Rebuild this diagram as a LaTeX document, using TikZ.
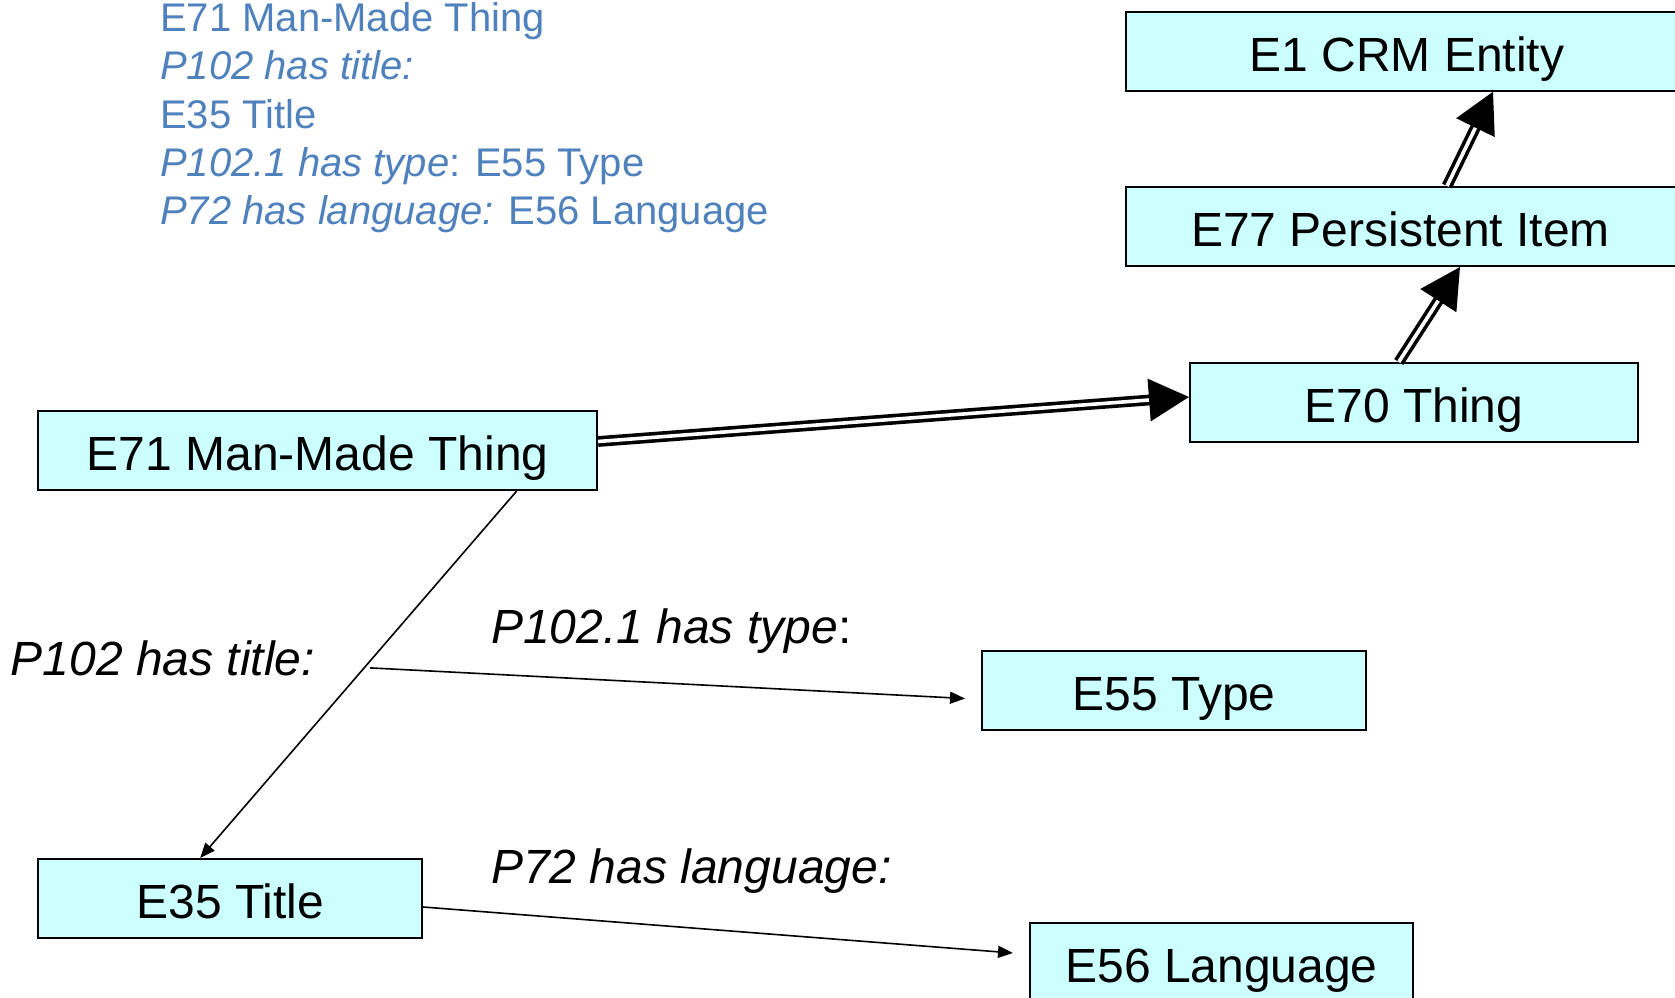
\documentclass[tikz,border=0pt]{standalone}
\usepackage{fontspec}
\setmainfont{Liberation Sans}
\usetikzlibrary{arrows.meta}
\definecolor{boxfill}{HTML}{CCFFFF}
\definecolor{noteblue}{HTML}{4F81BD}
\begin{document}
\begin{tikzpicture}[x=1pt,y=-1pt,
  cls/.style={draw=black, line width=2pt, fill=boxfill, anchor=north west, inner sep=0pt,
    minimum height=79pt, text height=40pt, text depth=0pt, font=\fontsize{48}{56}\selectfont},
  lbl/.style={anchor=base west, inner sep=0pt, font=\fontsize{48}{56}\selectfont\itshape},
  note/.style={anchor=base west, inner sep=0pt, text=noteblue, font=\fontsize{40}{48}\selectfont},
  isa/.style={double, line width=3.6pt, double distance=3.6pt, -{Triangle[length=40pt,width=42pt]}},
  rel/.style={line width=1.6pt, -{Triangle[length=15pt,width=12pt]}}]
\useasboundingbox (0,0) rectangle (1675,998);
\clip (0,0) rectangle (1675,998);

% notes
\node[note] (n1) at (160,32) {E71 Man-Made Thing};
\node[note] (n2) at (160,80) {\itshape P102 has title:};
\node[note] (n3) at (160,128) {E35 Title};
\node[note] (n4) at (160,176) {{\itshape P102.1 has type}: E55 Type};
\node[note] (n5) at (160,224) {{\itshape P72 has language:} E56 Language};

% classes
\node[cls, minimum width=562pt] (e1) at (1125,10.7) {E1 CRM Entity};
\node[cls, minimum width=562pt] (e77) at (1125,186) {\hspace*{-13pt}E77 Persistent Item};
\node[cls, minimum width=447.5pt] (e70) at (1189,362) {E70 Thing};
\node[cls, minimum width=558.6pt] (e71) at (37.4,410) {E71 Man-Made Thing};
\node[cls, minimum width=383.6pt] (e35) at (37.4,858) {E35 Title};
\node[cls, minimum width=384pt] (e55) at (981,649.5) {E55 Type};
\node[cls, minimum width=383pt] (e56) at (1029,922) {E56 Language};

% labels
\node[lbl] (l1) at (10.7,675) {P102 has title:};
\node[lbl] (l2) at (491,643) {P102.1 has type\upshape:};
\node[lbl] (l3) at (491,883) {P72 has language:};

% isA links
\draw[isa] ([yshift=9pt]e71.east) -- ([yshift=5.5pt]e70.west);
\draw[isa] ([xshift=-15pt]e70.north) -- ([xshift=53pt]e77.south);
\draw[isa] ([xshift=40pt]e77.north) -- ([xshift=86pt]e1.south);

% property links
\draw[rel] ([xshift=199pt]e71.south) -- coordinate[pos=0.482] (mid) ([xshift=-30pt]e35.north);
\draw[rel] ([xshift=6pt]mid) -- ([xshift=-16pt,yshift=-8.5pt]e55.west);
\draw[rel] ([yshift=-8.5pt]e35.east) -- ([xshift=-16pt,yshift=9.5pt]e56.west);
\end{tikzpicture}
\end{document}
